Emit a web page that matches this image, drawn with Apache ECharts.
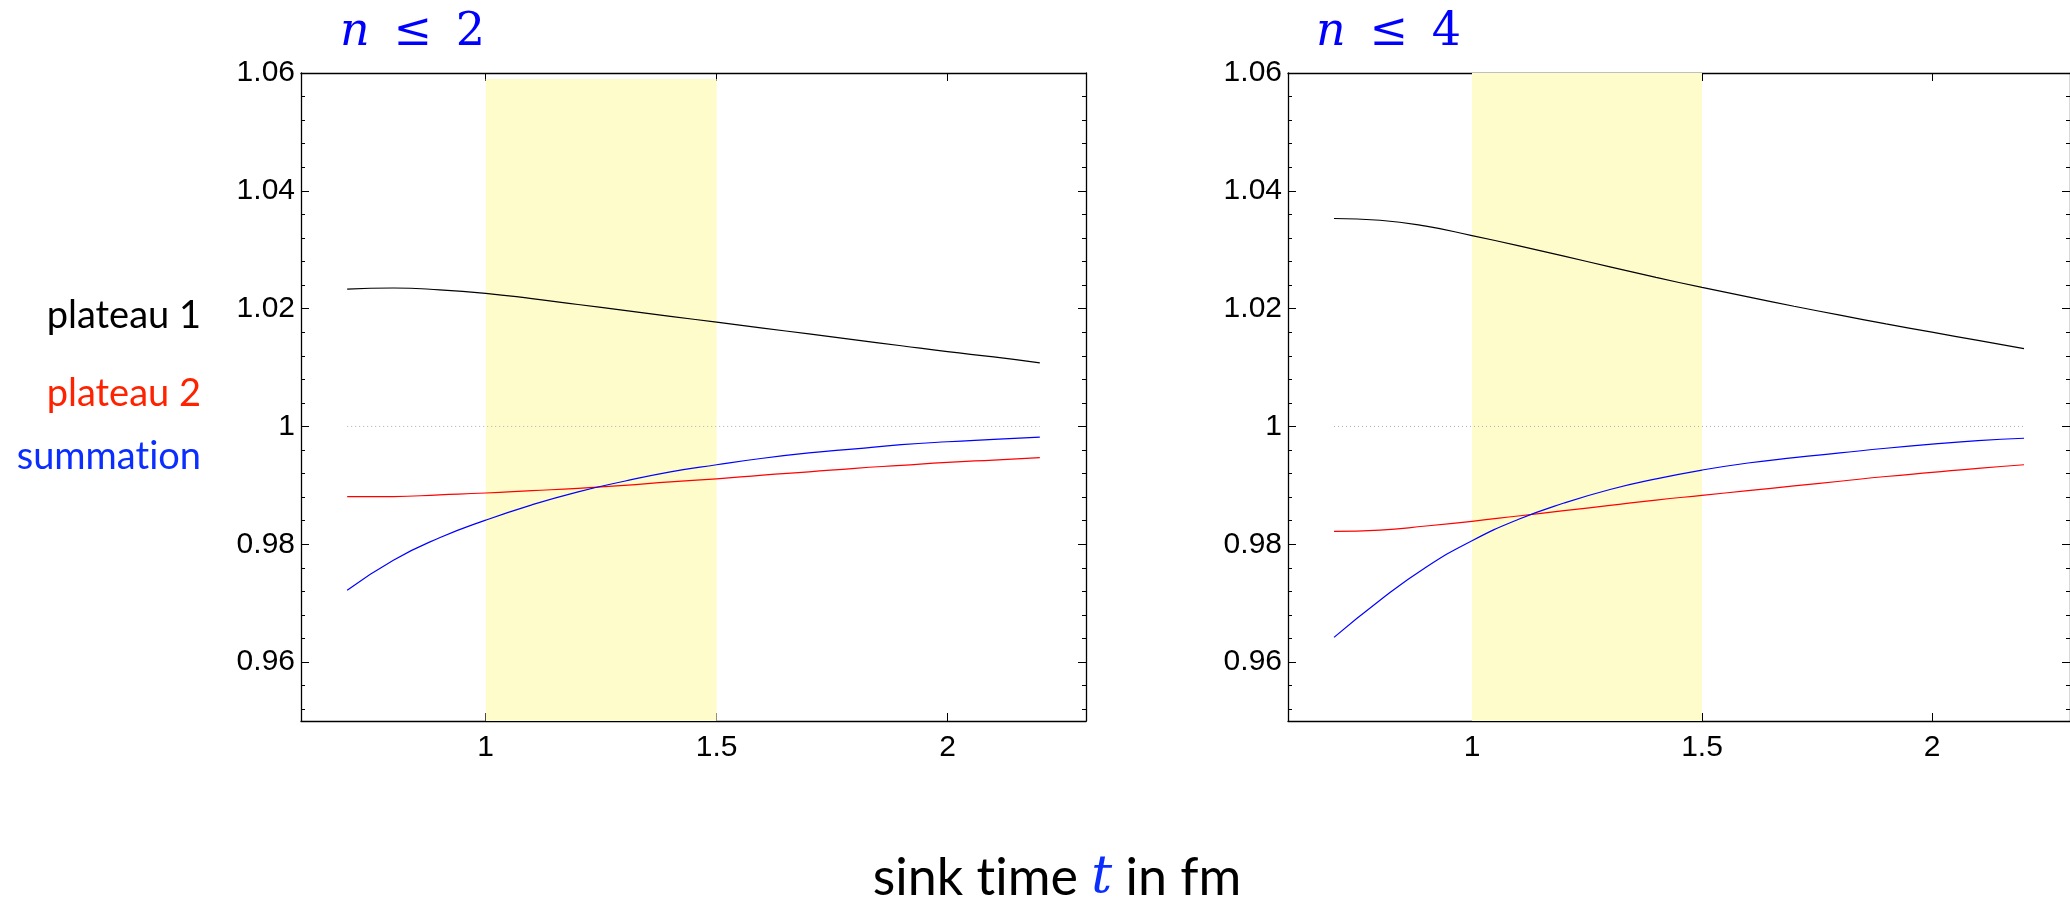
<!DOCTYPE html>
<html>
<head>
<meta charset="utf-8">
<script src="https://cdn.jsdelivr.net/npm/echarts@6/dist/echarts.min.js"></script>
<style>
html, body { margin: 0; padding: 0; background: #fff; }
#main { width: 2070px; height: 902px; }
</style>
</head>
<body>
<div id="main"></div>
<script>
// sink time t in fm
var sinkTime = [0.7, 0.8, 0.9, 1.0, 1.1, 1.2, 1.3, 1.4, 1.5, 1.6, 1.7, 1.8, 1.9, 2.0, 2.1, 2.2];

// n <= 2
var plateau1N2 = [1.0233, 1.0235, 1.0232, 1.0226, 1.0217, 1.0207, 1.0197, 1.0187, 1.0177, 1.0167, 1.0157, 1.0147, 1.0137, 1.0127, 1.0118, 1.0108];
var plateau2N2 = [0.9881, 0.9881, 0.9884, 0.9887, 0.9891, 0.9895, 0.9900, 0.9906, 0.9911, 0.99175, 0.9923, 0.9929, 0.9934, 0.9939, 0.9943, 0.9947];
var summationN2 = [0.9722, 0.9773, 0.9811, 0.9841, 0.9867, 0.9889, 0.9907, 0.9923, 0.9935, 0.9946, 0.9955, 0.9962, 0.9969, 0.9974, 0.9978, 0.9982];

// n <= 4
var plateau1N4 = [1.0353, 1.0350, 1.0340, 1.0324, 1.0307, 1.0289, 1.0271, 1.0253, 1.0236, 1.0220, 1.0204, 1.0189, 1.0174, 1.0160, 1.0146, 1.0132];
var plateau2N4 = [0.9822, 0.9824, 0.9831, 0.9839, 0.9848, 0.9857, 0.9866, 0.9875, 0.9883, 0.9891, 0.9899, 0.9907, 0.9915, 0.9922, 0.9929, 0.9935];
var summationN4 = [0.9642, 0.9705, 0.9761, 0.9806, 0.9842, 0.9870, 0.9893, 0.9911, 0.9926, 0.9938, 0.9947, 0.9955, 0.9963, 0.9970, 0.9976, 0.9980];

var xTicks = [1, 1.5, 2];
var yTicks = [0.96, 0.98, 1, 1.02, 1.04, 1.06];
var fitWindow = [1, 1.5];
var panelLabels = ['2', '4'];
var seriesNames = ['plateau 1', 'plateau 2', 'summation'];

var panels = [
    { p1: plateau1N2, p2: plateau2N2, sum: summationN2, bandTop: 1.059 },
    { p1: plateau1N4, p2: plateau2N4, sum: summationN4, bandTop: 1.06 }
];

function pairs(ys) {
    return sinkTime.map(function (t, i) { return [t, ys[i]]; });
}

// minor ticks: 5 steps between the major ones
var yMinor = [];
for (var k = -2; k <= 25; k++) {
    if (k % 5 === 0) continue;
    yMinor.push(+(0.96 + k * 0.004).toFixed(3));
}

var grids = [
    { left: 301, top: 73, width: 785, height: 648 },
    { left: 1288, top: 73, width: 784, height: 648 }
];

var xAxes = [], yAxes = [], series = [];
var tickFont = { color: '#000', fontSize: 30, fontFamily: 'Liberation Sans, Arial, sans-serif' };

grids.forEach(function (g, i) {
    ['bottom', 'top'].forEach(function (pos) {
        xAxes.push({
            gridIndex: i, type: 'value', min: 0.6, max: 2.3, position: pos,
            axisLine: { show: true, lineStyle: { color: '#000', width: 1.3 } },
            axisTick: { show: true, inside: true, length: 8, customValues: xTicks, lineStyle: { color: '#000', width: 1 } },
            axisLabel: Object.assign({ show: pos === 'bottom', customValues: xTicks, margin: 12 }, tickFont),
            splitLine: { show: false }
        });
    });
    ['left', 'right'].forEach(function (pos) {
        yAxes.push({
            gridIndex: i, type: 'value', min: 0.95, max: 1.06, position: pos,
            axisLine: { show: true, lineStyle: { color: '#000', width: 1.3 } },
            axisTick: { show: true, inside: true, length: 8, customValues: yTicks, lineStyle: { color: '#000', width: 1 } },
            axisLabel: Object.assign({ show: pos === 'left', customValues: yTicks, margin: 6 }, tickFont),
            splitLine: { show: false }
        });
        yAxes.push({
            gridIndex: i, type: 'value', min: 0.95, max: 1.06, position: pos,
            axisLine: { show: false },
            axisTick: { show: true, inside: true, length: 4, customValues: yMinor, lineStyle: { color: '#000', width: 1 } },
            axisLabel: { show: false },
            splitLine: { show: false }
        });
    });

    var xi = i * 2, yi = i * 4;
    var p = panels[i];
    series.push({
        type: 'line', xAxisIndex: xi, yAxisIndex: yi, z: 1, silent: true,
        data: [[sinkTime[0], 1], [sinkTime[sinkTime.length - 1], 1]],
        showSymbol: false,
        lineStyle: { color: '#b0b0b0', width: 1, type: [1, 3] },
        markArea: {
            silent: true,
            itemStyle: { color: '#fffccc' },
            data: [[{ xAxis: fitWindow[0], yAxis: 0.95 }, { xAxis: fitWindow[1], yAxis: p.bandTop }]]
        }
    });
    [[p.p1, '#000000'], [p.p2, '#ff0000'], [p.sum, '#0000ff']].forEach(function (s, j) {
        series.push({
            name: seriesNames[j], type: 'line', xAxisIndex: xi, yAxisIndex: yi, z: 3,
            data: pairs(s[0]), showSymbol: false, smooth: 0.5, silent: true,
            lineStyle: { color: s[1], width: 1.2 }
        });
    });
});

// Lato would join "ti"; a zero-width non-joiner keeps the letters apart
function noLig(s) { return s.replace(/ti/g, 't\u200Ci'); }

var graphics = [];
panelLabels.forEach(function (n, i) {
    graphics.push({
        type: 'text', x: [340, 1316][i], y: 33,
        style: {
            text: '{i|n}\u2009 ≤ \u2009' + n,
            fill: '#0000ff', font: '46px "DejaVu Serif"',
            verticalAlign: 'middle', align: 'left',
            rich: { i: { fontStyle: 'italic', fontFamily: 'DejaVu Serif', fontSize: 46, fill: '#0000ff' } }
        }
    });
});
var labelColors = ['#000000', '#ff2200', '#0a2eff'];
var labelY = [316, 394, 457];
seriesNames.forEach(function (name, j) {
    graphics.push({
        type: 'text', x: 201, y: labelY[j],
        style: { text: noLig(name), fill: labelColors[j], font: '38px Lato', align: 'right', verticalAlign: 'middle' }
    });
});
graphics.push({
    type: 'text', x: 1057, y: 878,
    style: {
        text: noLig('sink time ') + '{t|t} in fm',
        fill: '#000', font: '52px Lato', align: 'center', verticalAlign: 'middle',
        rich: { t: { fontFamily: 'DejaVu Serif', fontStyle: 'italic', fontSize: 52, fill: '#0a2eff' } }
    }
});

var chart = echarts.init(document.getElementById('main'));
chart.setOption({
    animation: false,
    backgroundColor: '#fff',
    grid: grids,
    xAxis: xAxes,
    yAxis: yAxes,
    series: series,
    graphic: graphics
});
</script>
</body>
</html>
